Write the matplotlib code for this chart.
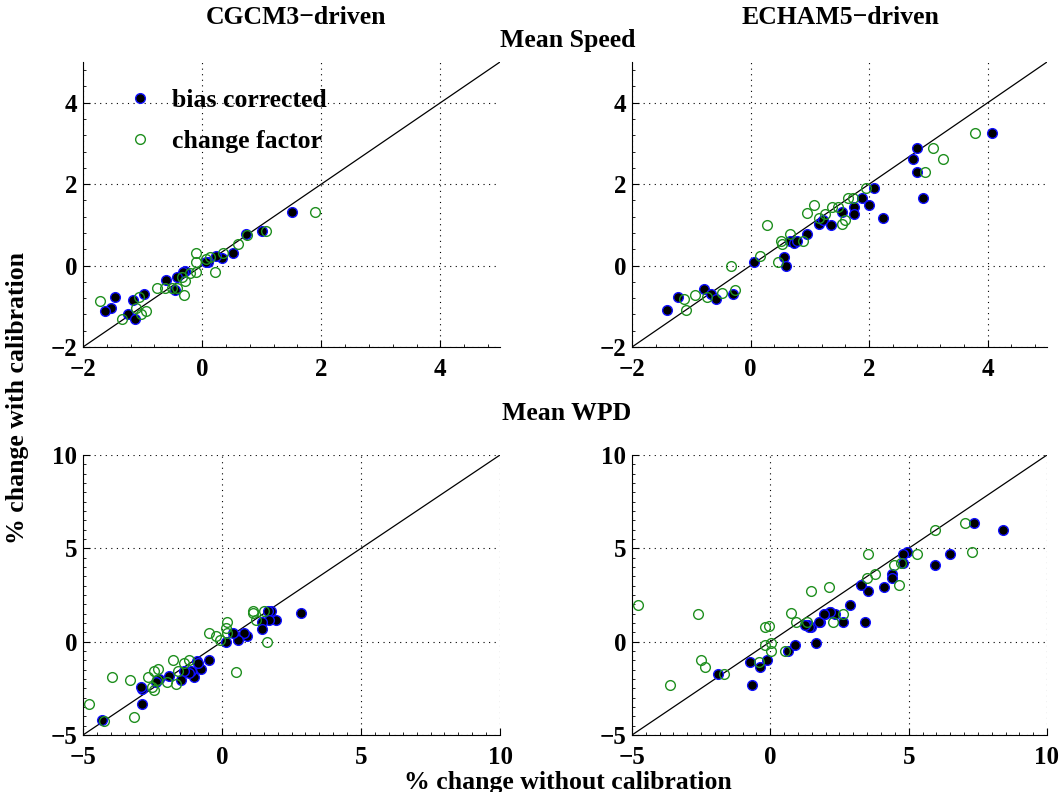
import numpy as np
import matplotlib.pyplot as plt
from matplotlib.ticker import MultipleLocator

plt.rcParams['font.family'] = ['Liberation Serif', 'DejaVu Serif']
plt.rcParams['font.weight'] = 'bold'

# Mean Speed, CGCM3-driven (% change without / with calibration)
spd_cg_bc_x = [1.50, 1.00, 0.73, 0.51, 0.33, 0.24, 0.10, 0.07, -0.28, -0.32, -0.43, -0.45,
               -0.60, -0.98, -1.16, -1.47, -1.53, -1.63, -1.25, -1.13]
spd_cg_bc_y = [1.31, 0.86, 0.78, 0.31, 0.18, 0.23, 0.08, 0.10, -0.13, -0.15, -0.27, -0.59,
               -0.36, -0.71, -0.85, -0.76, -1.04, -1.12, -1.18, -1.31]
spd_cg_cf_x = [1.90, 1.07, 0.76, 0.61, 0.35, 0.22, 0.14, 0.07, -0.10, -0.10, -0.10, -0.20,
               -0.29, -0.30, -0.34, -0.43, -0.50, -0.63, -0.76, -0.94, -1.03, -1.11, -1.06,
               -1.34, -1.72]
spd_cg_cf_y = [1.31, 0.86, 0.76, 0.53, 0.31, -0.15, 0.22, 0.17, 0.31, 0.08, -0.15, -0.19,
               -0.38, -0.73, -0.27, -0.56, -0.55, -0.55, -0.56, -1.12, -1.18, -1.03, -0.77,
               -1.31, -0.86]

# Mean Speed, ECHAM5-driven
spd_ec_bc_x = [-1.41, -1.22, -0.79, -0.66, -0.58, -0.30, 0.06, 0.56, 0.59, 0.66, 0.73, 0.79,
               0.95, 1.16, 1.23, 1.35, 1.54, 1.74, 1.75, 1.88, 2.00, 2.09, 4.07, 2.80, 2.74,
               2.80, 2.90, 2.24]
spd_ec_bc_y = [-1.08, -0.77, -0.58, -0.71, -0.83, -0.69, 0.08, 0.22, 0.00, 0.61, 0.55, 0.60,
               0.78, 1.02, 1.11, 0.99, 1.31, 1.44, 1.26, 1.67, 1.49, 1.90, 3.26, 2.89, 2.61,
               2.31, 1.67, 1.17]
spd_ec_cf_x = [-1.13, -1.09, -0.94, -0.73, -0.49, -0.33, -0.27, 0.16, 0.28, 0.47, 0.52, 0.53,
               0.67, 0.88, 0.95, 1.07, 1.16, 1.26, 1.37, 1.47, 1.55, 1.60, 1.65, 1.72, 1.94,
               3.79, 3.08, 3.24, 2.95]
spd_ec_cf_y = [-0.81, -1.10, -0.73, -0.78, -0.67, 0.00, -0.60, 0.24, 0.99, 0.08, 0.61, 0.53,
               0.78, 0.60, 1.30, 1.49, 1.17, 1.27, 1.44, 1.44, 1.02, 1.13, 1.67, 1.65, 1.90,
               3.26, 2.89, 2.61, 2.31]

# Mean WPD, CGCM3-driven
wpd_cg_bc_x = [2.83, 1.78, 1.65, 1.96, 1.70, 1.45, 1.43, 0.90, 0.78, 0.58, 0.40, 0.13, -0.47,
               -0.75, -0.90, -0.86, -1.00, -1.12, -1.18, -1.35, -1.47, -1.92, -2.25, -2.37,
               -2.86, -2.93, -2.86, -4.30]
wpd_cg_bc_y = [1.55, 1.66, 1.66, 1.16, 1.16, 1.07, 0.68, 0.30, 0.48, 0.09, 0.48, 0.00, -0.98,
               -1.46, -1.02, -1.13, -1.88, -1.55, -1.66, -1.55, -2.05, -1.84, -2.02, -2.14,
               -2.55, -2.45, -3.34, -4.20]
wpd_cg_cf_x = [-4.78, -4.24, -3.96, -3.31, -3.17, -2.65, -2.53, -2.45, -2.45, -2.31, -2.33,
               -1.99, -1.66, -1.78, -1.59, -1.37, -1.20, -0.47, -0.20, -0.06, 0.13, 0.18, 0.19,
               0.51, 1.11, 1.11, 1.24, 1.51, 1.63]
wpd_cg_cf_y = [-3.34, -4.23, -1.88, -2.05, -4.02, -1.88, -2.45, -2.59, -1.55, -1.46, -2.05,
               -2.14, -2.27, -0.98, -1.55, -1.13, -0.98, 0.48, 0.30, 0.09, 0.71, 1.07, 0.48,
               -1.64, 1.66, 1.52, 1.16, 1.66, 0.00]

# Mean WPD, ECHAM5-driven
wpd_ec_bc_x = [-1.90, -0.72, -0.65, -0.39, -0.12, 0.64, 0.88, 1.36, 1.48, 1.66, 1.78, 1.99,
               2.14, 7.36, 8.42, 6.51, 5.96, 4.93, 4.78, 4.78, 4.40, 4.40, 4.12, 3.54, 3.28,
               2.88, 3.41, 2.61, 2.35, 2.17, 1.95, 1.76, 1.41, 1.27]
wpd_ec_bc_y = [-1.75, -1.07, -2.34, -1.38, -0.98, -0.48, -0.20, 0.89, 0.77, -0.09, 1.07, 1.48,
               1.59, 6.36, 5.96, 4.70, 4.11, 4.82, 4.70, 4.20, 3.63, 3.39, 2.95, 2.73, 3.04,
               1.96, 1.07, 1.07, 1.48, 1.57, 1.48, 1.07, 0.77, 0.89]
wpd_ec_cf_x = [-4.80, -3.61, -2.63, -2.49, -2.35, -1.69, -0.42, -0.18, -0.04, -0.18, 0.02,
               0.02, 0.54, 0.73, 0.94, 1.33, 1.46, 2.11, 7.04, 5.96, 7.29, 5.31, 4.73, 4.46,
               4.64, 3.80, 3.49, 3.54, 2.61, 2.28]
wpd_ec_cf_y = [1.95, -2.34, 1.46, -0.98, -1.38, -1.75, -1.11, 0.77, 0.86, -0.18, -0.09, -0.48,
               -0.48, 1.55, 1.07, 1.07, 2.73, 2.91, 6.36, 5.96, 4.79, 4.70, 4.20, 4.11, 3.02,
               3.61, 3.43, 4.70, 1.48, 1.07]

spd_lim = [-2, 5]
spd_ticks = [-2, 0, 2, 4]
wpd_lim = [-5, 10]
wpd_ticks = [-5, 0, 5, 10]

fig = plt.figure(figsize=(10.63, 7.92), dpi=100)
W, H = 1063, 792
boxes = [(83, 62, 500, 347), (632, 62, 1047, 347),
         (83, 455, 500, 735), (632, 455, 1047, 735)]
axs = [fig.add_axes([l / W, 1 - b / H, (r - l) / W, (b - t) / H]) for l, t, r, b in boxes]

panels = [
    (spd_cg_bc_x, spd_cg_bc_y, spd_cg_cf_x, spd_cg_cf_y, spd_lim, spd_ticks, 0.4),
    (spd_ec_bc_x, spd_ec_bc_y, spd_ec_cf_x, spd_ec_cf_y, spd_lim, spd_ticks, 0.4),
    (wpd_cg_bc_x, wpd_cg_bc_y, wpd_cg_cf_x, wpd_cg_cf_y, wpd_lim, wpd_ticks, 0.5),
    (wpd_ec_bc_x, wpd_ec_bc_y, wpd_ec_cf_x, wpd_ec_cf_y, wpd_lim, wpd_ticks, 0.5),
]

green = '#1f8f1f'
fs = 18.5
for ax, (bx, by, cx, cy, lim, ticks, minor) in zip(axs, panels):
    ax.plot(lim, lim, color='black', lw=0.9, zorder=1)
    ax.plot(bx, by, 'o', ms=7, mfc='black', mec='#1010ff', mew=1.0,
            label='bias corrected', zorder=3)
    ax.plot(cx, cy, 'o', ms=7, mfc='none', mec=green, mew=1.0,
            label='change factor', zorder=3)
    ax.set_xlim(lim)
    ax.set_ylim(lim)
    ax.set_xticks(ticks)
    ax.set_yticks(ticks)
    ax.xaxis.set_minor_locator(MultipleLocator(minor))
    ax.yaxis.set_minor_locator(MultipleLocator(minor))
    ax.tick_params(which='both', direction='in', labelsize=18)
    ax.tick_params(axis='x', which='major', pad=8)
    ax.tick_params(axis='y', which='major', pad=4)
    ax.tick_params(which='major', length=5)
    ax.tick_params(which='minor', length=2.5)
    for lab in ax.get_xticklabels() + ax.get_yticklabels():
        lab.set_fontweight('bold')
    ax.grid(True, which='major', linestyle=(0, (1, 4)), color='black', lw=0.8)
    ax.spines['top'].set_visible(False)
    ax.spines['right'].set_visible(False)

axs[0].legend(loc='upper left', frameon=False, fontsize=fs, handlelength=1.0,
              handletextpad=0.75, borderpad=0, borderaxespad=0,
              bbox_to_anchor=(0.106, 0.905), labelspacing=0.7)

fig.text(296 / W, 1 - 18 / H, 'CGCM3\u2212driven', ha='center', va='center', fontsize=fs, fontweight='bold')
fig.text(840 / W, 1 - 18 / H, 'ECHAM5\u2212driven', ha='center', va='center', fontsize=fs, fontweight='bold')
fig.text(568 / W, 1 - 40 / H, 'Mean Speed', ha='center', va='center', fontsize=fs, fontweight='bold')
fig.text(567 / W, 1 - 413 / H, 'Mean WPD', ha='center', va='center', fontsize=fs, fontweight='bold')
fig.text(568 / W, 1 - 782 / H, '% change without calibration', ha='center', va='center',
         fontsize=fs, fontweight='bold')
fig.text(18 / W, 1 - 398 / H, '% change with calibration', ha='center', va='center',
         rotation=90, fontsize=fs, fontweight='bold')

fig.savefig('out.png', dpi=100)
